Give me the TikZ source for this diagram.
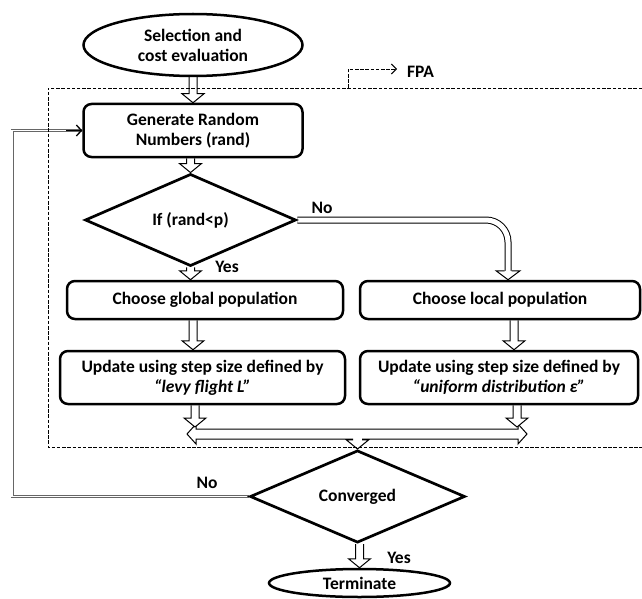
\documentclass[tikz,border=0pt]{standalone}
\usepackage{fontspec}
\setmainfont{Carlito}
\usetikzlibrary{shapes.geometric,arrows.meta,calc,backgrounds}
\begin{document}
\begin{tikzpicture}[x=1pt,y=-1pt,
  font=\fontsize{17.5}{20}\selectfont\bfseries,
  box/.style={draw, line width=2.5pt, rounded corners=8pt, inner sep=0pt, align=center},
  oval/.style={draw, ellipse, line width=2.5pt, inner sep=0pt, align=center},
  dec/.style={draw, diamond, line width=2.7pt, inner sep=0pt, align=center},
  hol/.style={draw=black, line width=1pt, fill=white, line join=miter},
  varr/.style={hol, to path={let \p1=(\tikztostart), \p2=(\tikztotarget) in
     (\x2-4pt,\y1) -- (\x2-4pt,\y2+9pt) -- (\x2-11pt,\y2+9pt) -- (\x2,\y2) -- (\x2+11pt,\y2+9pt) -- (\x2+4pt,\y2+9pt) -- (\x2+4pt,\y1)}},
  dsh/.style={draw, line width=0.9pt, dash pattern=on 3.5pt off 1.7pt},
  lbl/.style={inner sep=0pt},
]
\useasboundingbox (0,0) rectangle (642,599);

% nodes
\node[oval, minimum width=219pt, minimum height=62pt] (sel) at (193,45) {Selection and\\cost evaluation};
\node[box, minimum width=219pt, minimum height=53pt] (gen) at (193,130.5) {Generate Random\\Numbers (rand)};
\node[dec, minimum width=211pt, minimum height=64pt] (dia) at (190.5,220) {If (rand<p)};
\node[box, minimum width=276pt, minimum height=38pt] (glob) at (205,300) {Choose global population};
\node[box, minimum width=280pt, minimum height=38pt] (loc) at (500,300) {Choose local population};
\node[box, minimum width=285pt, minimum height=53pt] (upg) at (202.5,377.5) {Update using step size defined by\\\textit{“levy flight L”}};
\node[box, minimum width=278pt, minimum height=53pt] (upl) at (499,377.5) {Update using step size defined by\\\textit{“uniform distribution ε”}};
\node[dec, minimum width=215pt, minimum height=75pt] (conv) at (357.5,496.5) {Converged};
\node[oval, minimum width=181pt, minimum height=28pt] (term) at (359.5,583) {Terminate};

% labels
\node[lbl] (no1) at (322,208) {No};
\node[lbl] (yes1) at (227,267) {Yes};
\node[lbl] (no2) at (207,483) {No};
\node[lbl] (yes2) at (399,558) {Yes};
\node[lbl, anchor=west] (fpa) at (407,72) {FPA};

% coordinates
\coordinate (g1) at ([xshift=-12pt]glob.south);
\coordinate (l1) at ([xshift=14pt]loc.south);
\coordinate (upgA) at ([xshift=-7.5pt]upg.south);
\coordinate (uplA) at ([xshift=18pt]upl.south);
\coordinate (barL) at (187,434);
\coordinate (barR) at (527,434);
\coordinate (barT) at (187,427);
\coordinate (noTip) at ([xshift=8pt]loc.north);
\coordinate (fbc) at (12,300);
\coordinate (fpaA) at (348,88);
\coordinate (fpaB) at (397,69);

\begin{pgfonlayer}{background}
\path[varr] (sel.south) to (gen.north);
\path[varr] (gen.south) to (dia.north);
\path[varr] (dia.south) to (dia.south |- glob.north);
\path[varr] (g1) to (g1 |- upg.north);
\path[varr] (l1) to (l1 |- upl.north);
\path[varr] (conv.south) to (term.north);
% merge bar with middle arrow
\path[hol] let \p1=(barL), \p2=(barR), \p3=(conv.north) in
 (\x1+9pt,\y1+5pt) -- (\x2-9pt,\y1+5pt) -- (\x2-9pt,\y1+10pt) -- (\x2,\y1) -- (\x2-9pt,\y1-10pt) -- (\x2-9pt,\y1-5pt)
 -- (\x3+5pt,\y1-5pt) -- (\x3+5pt,\y3+9pt) -- (\x3+11pt,\y3+9pt) -- (\x3,\y3) -- (\x3-11pt,\y3+9pt) -- (\x3-5pt,\y3+9pt) -- (\x3-5pt,\y1-5pt)
 -- (\x1+9pt,\y1-5pt) -- (\x1+9pt,\y1-10pt) -- (\x1,\y1) -- (\x1+9pt,\y1+10pt) -- cycle;
\path[varr] (upgA) to (upgA |- barT);
\path[varr] (uplA) to (uplA |- barT);
% No branch
\draw[line width=1pt, double distance=5pt, rounded corners=22pt] (dia.east) -| ([yshift=9pt]noTip);
\path[hol] let \p1=(noTip) in (\x1-3.5pt,\y1+9pt) -- (\x1-12pt,\y1+9pt) -- (\x1,\y1) -- (\x1+12pt,\y1+9pt) -- (\x1+3.5pt,\y1+9pt);
% feedback
\draw[gray!80!black, line width=0.9pt, double=white, double distance=1.2pt] (conv.west) -| (fbc) |- (gen.west);
\draw[line width=1.3pt, -{Straight Barb[length=5pt,width=11pt]}] ([xshift=-16pt]gen.west) -- (gen.west);
\end{pgfonlayer}

% FPA frame
\draw[dsh] (642,88) -| (48,447) -- (642,447);
\draw[dsh, -{Straight Barb[length=5pt,width=10pt,line width=1pt]}] (fpaA) |- (fpaB);
\end{tikzpicture}
\end{document}
